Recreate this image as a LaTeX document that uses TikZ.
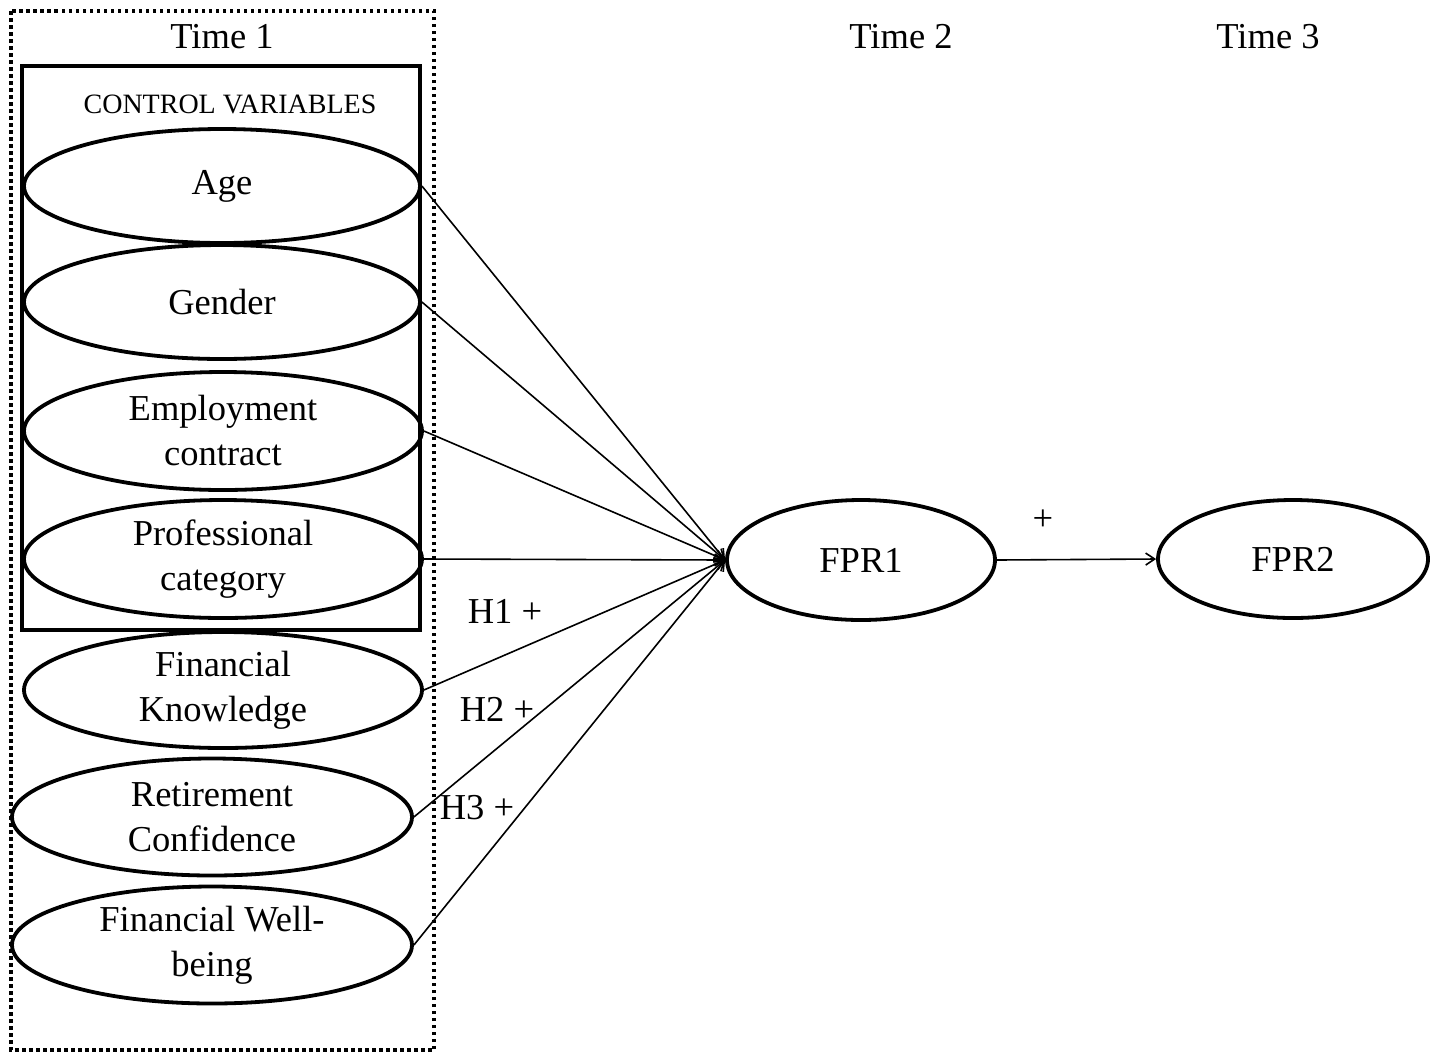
\documentclass[tikz,border=0pt]{standalone}
\usepackage{fontspec}
\setmainfont{Liberation Serif}
\usetikzlibrary{shapes.geometric,arrows.meta}
\begin{document}
\begin{tikzpicture}[x=1pt,y=-1pt,
  ell/.style={draw,ellipse,line width=3.8pt,inner sep=0pt,align=center,
    font=\fontsize{36.5}{45}\selectfont},
  lab/.style={font=\fontsize{36.5}{40}\selectfont,inner sep=0pt},
  arr/.style={line width=1.6pt,-{Straight Barb[length=9pt,width=12pt,line width=1.6pt]}}]
\useasboundingbox (0,0) rectangle (1437,1053);
\draw[line width=3.5pt,dash pattern=on 3.5pt off 3.5pt] (11,11) rectangle (434,1050);
\draw[line width=4.2pt] (22,66) rectangle (420,630);
\node[lab] (t1) at (222,37) {Time 1};
\node[lab] (t2) at (901,37) {Time 2};
\node[lab] (t3) at (1268,37) {Time 3};
\node[font=\fontsize{28}{32}\selectfont,inner sep=0pt] (cv) at (230,104) {CONTROL VARIABLES};
\node[ell,minimum width=396pt,minimum height=114pt] (age) at (222,186) {Age};
\node[ell,minimum width=396pt,minimum height=114pt] (gen) at (222,302) {Gender};
\node[ell,minimum width=398pt,minimum height=118pt] (emp) at (223,431) {Employment\\contract};
\node[ell,minimum width=398pt,minimum height=118pt] (pro) at (223,559) {Professional\\category};
\node[ell,minimum width=398pt,minimum height=116pt] (fk) at (223,690) {Financial\\Knowledge};
\node[ell,minimum width=400pt,minimum height=117pt] (rc) at (212,817) {Retirement\\Confidence};
\node[ell,minimum width=400pt,minimum height=117pt] (fwb) at (212,945) {Financial Well-\\being};
\node[ell,minimum width=268pt,minimum height=120pt] (fpr1) at (861,560) {FPR1};
\node[ell,minimum width=270pt,minimum height=118pt] (fpr2) at (1293,559) {FPR2};
\foreach \s in {age,gen,emp,pro,fk,rc,fwb} \draw[arr] (\s.east) -- (fpr1.west);
\draw[arr] (fpr1.east) -- (fpr2.west);
\node[lab] (plus) at (1043,520) {+};
\node[lab] (h1) at (505,611) {H1 +};
\node[lab] (h2) at (497,709) {H2 +};
\node[lab] (h3) at (477,808) {H3 +};
\end{tikzpicture}
\end{document}
